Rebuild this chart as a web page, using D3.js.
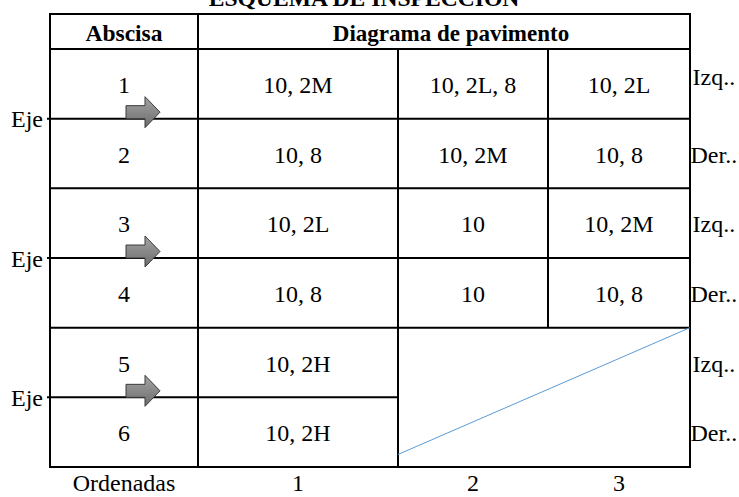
<!DOCTYPE html>
<html>
<head>
<meta charset="utf-8">
<script src="https://cdn.jsdelivr.net/npm/d3@7"></script>
<style>
  html, body { margin: 0; padding: 0; background: #fff; }
</style>
</head>
<body>
<svg id="chart" width="739" height="497"></svg>
<script>
// ---- data ----
const title = "ESQUEMA DE INSPECCION";
const headers = ["Abscisa", "Diagrama de pavimento"];
const abscisas = ["1", "2", "3", "4", "5", "6"];
const ordenada1 = ["10, 2M", "10, 8", "10, 2L", "10, 8", "10, 2H", "10, 2H"];
const ordenada2 = ["10, 2L, 8", "10, 2M", "10", "10", null, null];
const ordenada3 = ["10, 2L", "10, 8", "10, 2M", "10, 8", null, null];
const lados = ["Izq..", "Der..:", "Izq..", "Der..", "Izq..", "Der.."];
const ejeLabel = "Eje";
const ordenadasLabels = ["Ordenadas", "1", "2", "3"];

// ---- layout ----
const FONT = "'Liberation Serif', 'Times New Roman', Tinos, 'DejaVu Serif', serif";
const svg = d3.select("#chart").attr("font-family", FONT);
const colEdges = [50, 198, 398, 548, 690];
const tableTop = 14, headerBottom = 49, tableBottom = 467;
const colKeys = ["abs", "o1", "o2", "o3"];
const x0 = d3.scaleOrdinal().domain(colKeys).range(colEdges.slice(0, 4));
const x1 = d3.scaleOrdinal().domain(colKeys).range(colEdges.slice(1));
const xc = k => (x0(k) + x1(k)) / 2;
const y = d3.scaleBand().domain(d3.range(abscisas.length)).range([headerBottom, tableBottom]).padding(0);
const rh = y.bandwidth();

const cols = [abscisas, ordenada1, ordenada2, ordenada3];
const lineW = 2;

const txt = sel => sel.attr("font-family", FONT).attr("fill", "#000");

// gradient for arrows
const defs = svg.append("defs");
const grad = defs.append("linearGradient").attr("id", "ag").attr("x1", 0).attr("y1", 0).attr("x2", 0).attr("y2", 1);
grad.append("stop").attr("offset", "0%").attr("stop-color", "#a4a4a4");
grad.append("stop").attr("offset", "100%").attr("stop-color", "#6c6c6c");

// title
svg.append("text").call(txt).attr("x", 364).attr("y", 6).attr("text-anchor", "middle")
  .attr("font-weight", "bold").attr("font-size", 23.6).text(title);

// header texts
svg.append("text").call(txt).attr("x", xc("abs")).attr("y", 41).attr("text-anchor", "middle")
  .attr("font-weight", "bold").attr("font-size", 23.5).text(headers[0]);
svg.append("text").call(txt).attr("x", (x0("o1") + x1("o3")) / 2 + 7).attr("y", 41).attr("text-anchor", "middle")
  .attr("font-weight", "bold").attr("font-size", 23).text(headers[1]);

// cell texts
const cells = [];
cols.forEach((arr, ci) => arr.forEach((v, ri) => { if (v !== null) cells.push({ k: colKeys[ci], r: ri, v }); }));
svg.append("g").selectAll("text").data(cells).join("text").call(txt)
  .attr("x", d => xc(d.k)).attr("y", d => y(d.r) + 44)
  .attr("text-anchor", "middle").attr("font-size", 24).text(d => d.v);

// side labels
svg.append("g").selectAll("text").data(lados).join("text").call(txt)
  .attr("x", (d, i) => (i % 2 === 0 ? x1("o3") + 2.5 : x1("o3") + 0.5))
  .attr("y", (d, i) => y(i) + 44 - (i === 0 ? 8 : 0))
  .attr("font-size", 24).text(d => d);

// merged region (rows 5-6, cols o2-o3) is blank
const merged = { r0: 4, r1: 5 };

// grid lines
const g = svg.append("g").attr("stroke", "#000").attr("stroke-width", lineW).attr("fill", "none");
g.append("rect").attr("x", colEdges[0]).attr("y", tableTop)
  .attr("width", colEdges[4] - colEdges[0]).attr("height", tableBottom - tableTop);
g.append("line").attr("x1", colEdges[0]).attr("x2", colEdges[4]).attr("y1", headerBottom).attr("y2", headerBottom);
g.append("line").attr("x1", x1("abs")).attr("x2", x1("abs")).attr("y1", tableTop).attr("y2", tableBottom);
d3.range(1, abscisas.length).forEach(ri => {
  const yy = y(ri);
  const isEje = ri % 2 === 1;
  g.append("line").attr("x1", isEje ? colEdges[0] - 3 : colEdges[0]).attr("x2", x1("o1")).attr("y1", yy).attr("y2", yy);
  if (!(ri > merged.r0 && ri <= merged.r1)) {
    g.append("line").attr("x1", x0("o2")).attr("x2", x1("o3")).attr("y1", yy).attr("y2", yy);
  }
});
g.append("line").attr("x1", x1("o1")).attr("x2", x1("o1")).attr("y1", headerBottom).attr("y2", tableBottom);
g.append("line").attr("x1", x1("o2")).attr("x2", x1("o2")).attr("y1", headerBottom).attr("y2", y(merged.r0));

// diagonal in merged cell
svg.append("line")
  .attr("x1", x0("o2")).attr("y1", y(merged.r1) + rh * 0.82)
  .attr("x2", x1("o3")).attr("y2", y(merged.r0))
  .attr("stroke", "#5b9bd5").attr("stroke-width", 1);

// Eje labels and arrows
const ejeRows = d3.range(1, abscisas.length, 2);
svg.append("g").selectAll("text").data(ejeRows).join("text").call(txt)
  .attr("x", 43).attr("y", d => y(d) + 8.5).attr("text-anchor", "end")
  .attr("font-size", 24).text(ejeLabel);

const arrowPath = ly => {
  const bx0 = 126, bx1 = 145, tip = 160;
  const c = ly - 6.5;
  return d3.line()([
    [bx0, ly - 13], [bx1, ly - 13], [bx1, c - 15.5], [tip, c], [bx1, c + 15.5], [bx1, ly], [bx0, ly]
  ]) + "Z";
};
svg.append("g").selectAll("path").data(ejeRows).join("path")
  .attr("d", d => arrowPath(y(d)))
  .attr("fill", "url(#ag)").attr("stroke", "#3a3a3a").attr("stroke-width", 1);

// bottom ordenadas labels
svg.append("g").selectAll("text").data(ordenadasLabels).join("text").call(txt)
  .attr("x", (d, i) => xc(colKeys[i])).attr("y", 491).attr("text-anchor", "middle")
  .attr("font-size", 24).text(d => d);
</script>
</body>
</html>
